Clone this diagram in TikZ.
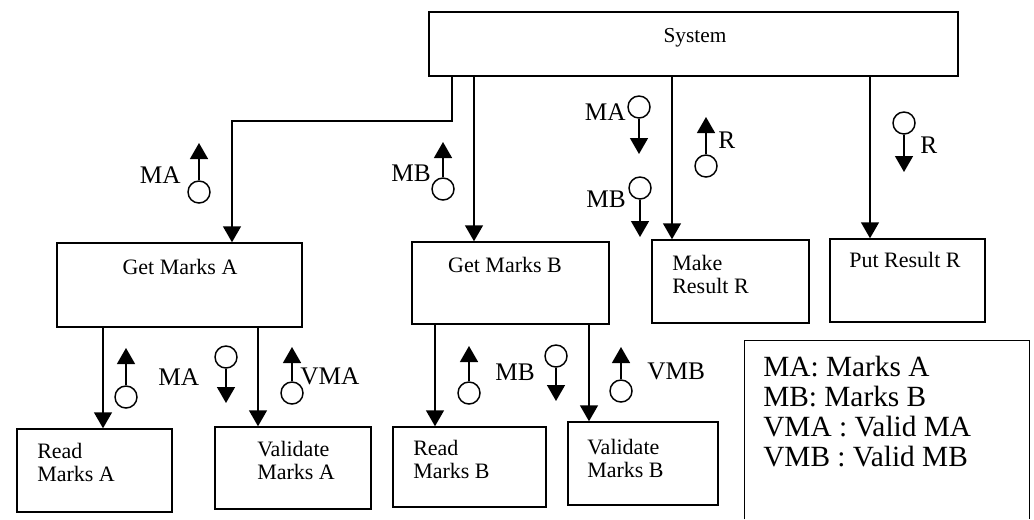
\documentclass[tikz,border=0pt]{standalone}
\usepackage{fontspec}
\setmainfont{Liberation Serif}
\usetikzlibrary{arrows.meta,fit}
\begin{document}
\begin{tikzpicture}[x=0.75pt,y=-0.75pt,
  box/.style={draw, line width=1.1pt, inner sep=0pt},
  conn/.style={line width=1.1pt, -{Triangle[width=13.5pt,length=12pt]}},
  dc/.style={draw, circle, line width=1.1pt, minimum size=16.5pt, inner sep=0pt},
  lbl/.style={font=\fontsize{19}{19}\selectfont, inner sep=0pt},
  btxt/.style={font=\fontsize{16.5}{17.25}\selectfont, inner sep=0pt, align=left},
  legtxt/.style={font=\fontsize{22}{22.5}\selectfont, inner sep=0pt, align=left}]
\useasboundingbox (0,0) rectangle (1034,519);

% boxes
\node[box, fit={(429,12) (958,76)}] (sys) {};
\node[btxt, font=\fontsize{16}{16}\selectfont, text depth=0pt] (tsys) at (695,35) {System};
\node[box, fit={(57,243) (302,327)}] (gma) {};
\node[btxt] (tgma) at (180,267) {Get Marks A};
\node[box, fit={(412,242) (609,324)}] (gmb) {};
\node[btxt] (tgmb) at (505,265) {Get Marks B};
\node[box, fit={(652,240) (809,323)}] (mkr) {};
\node[btxt, anchor=west] (tmkr) at (672,274.5) {Make\\Result R};
\node[box, fit={(830,239) (985,322)}] (ptr) {};
\node[btxt] (tptr) at (905,260) {Put Result R};
\node[box, fit={(17,429) (172,512)}] (rma) {};
\node[btxt, anchor=west] (trma) at (37,462.5) {Read\\Marks A};
\node[box, fit={(215,427) (371,509)}] (vma) {};
\node[btxt, anchor=west] (tvma) at (257,460.5) {Validate\\Marks A};
\node[box, fit={(393,427) (546,507)}] (rmb) {};
\node[btxt, anchor=west] (trmb) at (413,459) {Read\\Marks B};
\node[box, fit={(568,422) (718,505)}] (vmb) {};
\node[btxt, anchor=west] (tvmb) at (587,458) {Validate\\Marks B};

% legend
\node[inner sep=0pt, fit={(745,341) (1029,519)}] (leg) {};
\draw[line width=1.1pt] (leg.south west) -- (leg.north west) -- (leg.north east) -- (leg.south east);
\node[legtxt, anchor=west] (tleg) at (763,412) {MA: Marks A\\MB: Marks B\\VMA : Valid MA\\VMB : Valid MB};

% connectors
\coordinate (k1) at (232,121);
\draw[conn] (sys.south -| 452,0) |- (k1) -- (gma.north -| k1);
\draw[conn] (sys.south -| 474,0) -- (gmb.north -| 474,0);
\draw[conn] (sys.south -| 672,0) -- (mkr.north -| 672,0);
\draw[conn] (sys.south -| 870,0) -- (ptr.north -| 870,0);
\draw[conn] (gma.south -| 103,0) -- (rma.north -| 103,0);
\draw[conn] (gma.south -| 258,0) -- (vma.north -| 258,0);
\draw[conn] (gmb.south -| 435,0) -- (rmb.north -| 435,0);
\draw[conn] (gmb.south -| 589,0) -- (vmb.north -| 589,0);

% data couples (up)
\node[dc] (c1) at (199,192) {}; \coordinate (t1) at (199,143); \draw[conn] (c1) -- (t1);
\node[dc] (c2) at (443,189) {}; \coordinate (t2) at (443,142); \draw[conn] (c2) -- (t2);
\node[dc] (c3) at (706,166) {}; \coordinate (t3) at (706,117); \draw[conn] (c3) -- (t3);
\node[dc] (c4) at (126,397) {}; \coordinate (t4) at (126,348); \draw[conn] (c4) -- (t4);
\node[dc] (c5) at (292,393) {}; \coordinate (t5) at (292,347); \draw[conn] (c5) -- (t5);
\node[dc] (c6) at (469,393) {}; \coordinate (t6) at (469,346); \draw[conn] (c6) -- (t6);
\node[dc] (c7) at (621,391) {}; \coordinate (t7) at (621,347); \draw[conn] (c7) -- (t7);
% data couples (down)
\node[dc] (c8) at (639,107) {}; \coordinate (t8) at (639,154); \draw[conn] (c8) -- (t8);
\node[dc] (c9) at (640,188) {}; \coordinate (t9) at (640,237); \draw[conn] (c9) -- (t9);
\node[dc] (c10) at (904,123) {}; \coordinate (t10) at (904,172); \draw[conn] (c10) -- (t10);
\node[dc] (c11) at (226,357) {}; \coordinate (t11) at (226,403); \draw[conn] (c11) -- (t11);
\node[dc] (c12) at (556,356) {}; \coordinate (t12) at (556,401); \draw[conn] (c12) -- (t12);

% labels
\node[lbl, anchor=east] (l1) at (181,175) {MA};
\node[lbl, anchor=east] (l2) at (431,173) {MB};
\node[lbl, anchor=west] (l3) at (718,140) {R};
\node[lbl, anchor=east] (l8) at (626,112) {MA};
\node[lbl, anchor=east] (l9) at (626,199) {MB};
\node[lbl, anchor=west] (l10) at (920,145) {R};
\node[lbl, anchor=west] (l11) at (158,377) {MA};
\node[lbl, anchor=west] (l5) at (300,376) {VMA};
\node[lbl, anchor=west] (l12) at (495,372) {MB};
\node[lbl, anchor=west] (l7) at (647,371) {VMB};
\end{tikzpicture}
\end{document}
